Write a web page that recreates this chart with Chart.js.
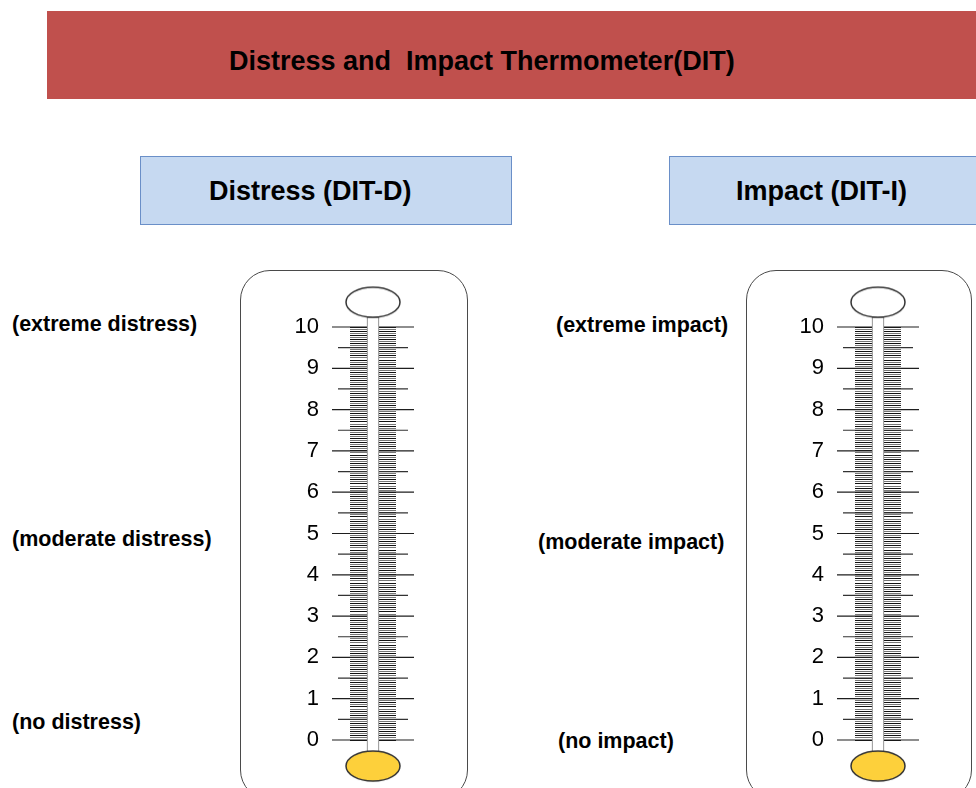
<!DOCTYPE html>
<html>
<head>
<meta charset="utf-8">
<title>Distress and Impact Thermometer</title>
<script src="https://cdn.jsdelivr.net/npm/chart.js@4.4.0/dist/chart.umd.min.js"></script>
<style>
    body { margin: 0; width: 976px; height: 788px; overflow: hidden; background: #fff; position: relative;
           font-family: "Liberation Sans", Arial, sans-serif; color: #000; }
    .abs { position: absolute; }
    #titleBar { left: 47px; top: 11px; width: 940px; height: 88px; background: #c0504d; }
    .head { font-weight: bold; font-size: 27px; line-height: 27px; white-space: nowrap; }
    .scaleBox { top: 156px; height: 69px; background: #c6d9f1; border: 1.5px solid #6a8fc8; box-sizing: border-box; }
    .frame { top: 270px; height: 530px; border: 1.5px solid #4a4a4a; border-radius: 30px; box-sizing: border-box; }
    .side { font-weight: bold; font-size: 21.5px; line-height: 21.5px; white-space: nowrap; }
    .thermo { top: 270px; width: 228px; height: 518px; }
</style>
</head>
<body>
<div id="titleBar" class="abs"></div>
<div class="abs head" style="left:229px; top:48px;">Distress and&nbsp; Impact Thermometer(DIT)</div>

<div class="abs scaleBox" style="left:140px; width:372px;"></div>
<div class="abs head" style="left:209px; top:178px;">Distress (DIT-D)</div>
<div class="abs scaleBox" style="left:669px; width:330px;"></div>
<div class="abs head" style="left:736px; top:178px;">Impact (DIT-I)</div>

<div class="abs frame" style="left:240px; width:228px;"></div>
<div class="abs frame" style="left:746px; width:226px;"></div>

<div class="abs side" style="left:12px; top:314px;">(extreme distress)</div>
<div class="abs side" style="left:12px; top:529px;">(moderate distress)</div>
<div class="abs side" style="left:12px; top:712px;">(no distress)</div>
<div class="abs side" style="left:556px; top:315px;">(extreme impact)</div>
<div class="abs side" style="left:538px; top:532px;">(moderate impact)</div>
<div class="abs side" style="left:558px; top:731px;">(no impact)</div>

<div class="abs thermo" style="left:240px;"><canvas id="distressChart"></canvas></div>
<div class="abs thermo" style="left:745px;"><canvas id="impactChart"></canvas></div>

<script>
// scale of the thermometer (0 = none, 10 = extreme)
const scaleLabels = [0, 1, 2, 3, 4, 5, 6, 7, 8, 9, 10];
const halfMarks = [0.5, 1.5, 2.5, 3.5, 4.5, 5.5, 6.5, 7.5, 8.5, 9.5];
const minorStep = 0.05;

// glass parts, in scale units
const tubeRange = [-0.29, 10.24];
const topBulbLevel = 10.6;
const baseBulbLevel = -0.63;

Chart.defaults.font.family = '"Liberation Sans", Arial, sans-serif';

// ellipse used as point style for the bulbs
function makeBulb(fill) {
    const c = document.createElement('canvas');
    c.width = 58;
    c.height = 34;
    const g = c.getContext('2d');
    g.beginPath();
    g.ellipse(29, 17, 27, 15, 0, 0, Math.PI * 2);
    g.fillStyle = fill;
    g.fill();
    g.lineWidth = 1.5;
    g.strokeStyle = '#333333';
    g.stroke();
    return c;
}

function drawThermometer(canvasId) {
    const ctx = document.getElementById(canvasId).getContext('2d');
    return new Chart(ctx, {
        type: 'scatter',
        data: {
            datasets: [
                {
                    // glass tube
                    type: 'bar',
                    data: [{ x: 0, y: tubeRange }],
                    backgroundColor: '#ffffff',
                    borderColor: '#777777',
                    borderWidth: 1,
                    borderSkipped: false,
                    barThickness: 12,
                    clip: false,
                    order: 1
                },
                {
                    data: scaleLabels.map(v => ({ x: 0, y: v })),
                    pointStyle: 'line',
                    pointRadius: 41,
                    pointBorderWidth: 1.2,
                    pointBorderColor: '#1e1e1e',
                    clip: false,
                    order: 2
                },
                {
                    data: halfMarks.map(v => ({ x: 0, y: v })),
                    pointStyle: 'line',
                    pointRadius: 35,
                    pointBorderWidth: 1.2,
                    pointBorderColor: '#333333',
                    clip: false,
                    order: 2
                },
                {
                    data: [{ x: 0, y: topBulbLevel }],
                    pointStyle: makeBulb('#ffffff'),
                    pointRadius: 30,
                    clip: false,
                    order: 0
                },
                {
                    data: [{ x: 0, y: baseBulbLevel }],
                    pointStyle: makeBulb('#fdd03b'),
                    pointRadius: 30,
                    clip: false,
                    order: 0
                }
            ]
        },
        options: {
            responsive: true,
            maintainAspectRatio: false,
            animation: false,
            events: [],
            layout: { padding: { top: 57, bottom: 48, left: 0, right: 72 } },
            plugins: {
                legend: { display: false },
                tooltip: { enabled: false }
            },
            scales: {
                x: { type: 'linear', min: -1, max: 1, display: false },
                y: {
                    type: 'linear',
                    position: 'left',
                    min: 0,
                    max: 10,
                    afterFit: (scale) => { scale.width = 110; },
                    ticks: { stepSize: 1, padding: 23, color: '#000', font: { size: 22 } },
                    grid: { display: false },
                    border: { display: false }
                },
                yMinor: {
                    type: 'linear',
                    position: 'right',
                    min: 0,
                    max: 10,
                    afterFit: (scale) => { scale.width = 0; },
                    ticks: { display: false, stepSize: minorStep },
                    grid: {
                        drawTicks: false,
                        lineWidth: 1,
                        color: (c) => (c.index % 2 ? '#777777' : '#111111')
                    },
                    border: { display: false }
                }
            }
        }
    });
}

drawThermometer('distressChart');
drawThermometer('impactChart');
</script>
</body>
</html>
